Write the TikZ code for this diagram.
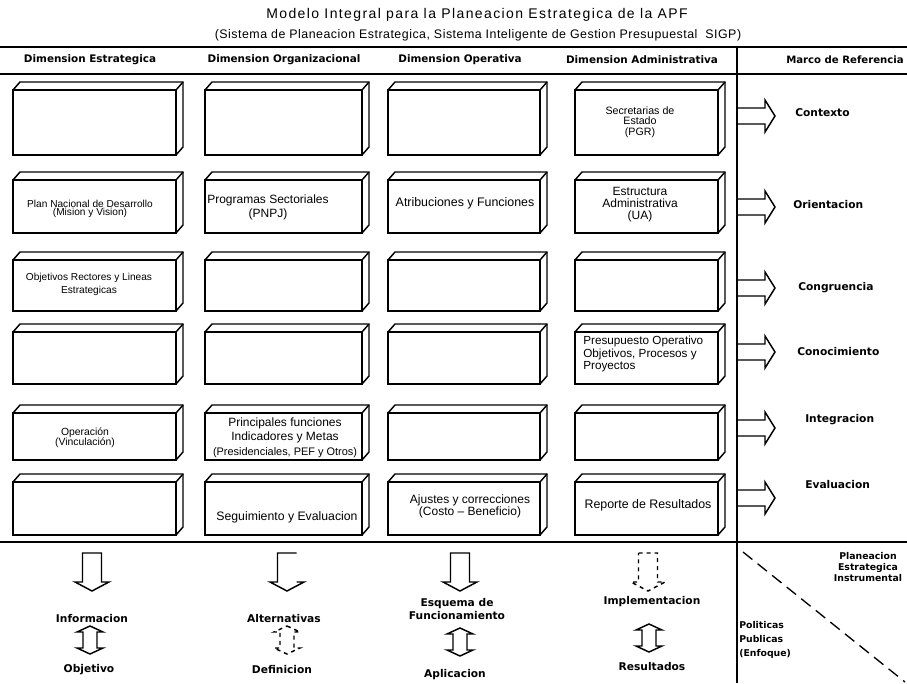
\documentclass[tikz,border=0pt]{standalone}
\usepackage{fontspec}
\setmainfont{Liberation Sans}
\newfontfamily\dv{DejaVu Sans}
\newfontfamily\ttl[LetterSpace=10]{Liberation Sans}
\newfontfamily\sttl[LetterSpace=4]{Liberation Sans}
\begin{document}
\begin{tikzpicture}[x=0.75pt,y=-0.75pt,
  frame/.style={line width=2pt},
  box/.style={draw,line width=1.1pt,inner sep=0pt,outer sep=0pt},
  face/.style={line width=1.1pt,line join=miter},
  bt/.style={font=\fontsize{9}{10.5}\selectfont,align=center,inner sep=0pt},
  hd/.style={font=\dv\bfseries\fontsize{7.8}{9}\selectfont,inner sep=0pt},
  lb/.style={font=\dv\bfseries\fontsize{8}{9.5}\selectfont,inner sep=0pt,align=center},
  sl/.style={font=\dv\bfseries\fontsize{7}{8.25}\selectfont,inner sep=0pt},
  blk/.style={draw,line width=1.1pt,line join=miter},
]
\clip (0,0) rectangle (907,683);
\fill[white] (0,0) rectangle (907,683);

% titles
\node[inner sep=0pt,font=\ttl\fontsize{10.5}{12}\selectfont] (title) at (477,15) {Modelo Integral para la Planeacion Estrategica de la APF};
\node[inner sep=0pt,font=\sttl\fontsize{9.3}{11}\selectfont] (subtitle) at (478,35) {(Sistema de Planeacion Estrategica, Sistema Inteligente de Gestion Presupuestal\ \ SIGP)};

% frame lines
\coordinate (lt) at (0,47);   \coordinate (rt) at (907,47);
\coordinate (lh) at (0,74);   \coordinate (rh) at (907,74);
\coordinate (lb) at (0,542);  \coordinate (rb) at (907,542);
\coordinate (vt) at (737,47); \coordinate (vb) at (737,683);
\draw[frame] (lt) -- (rt);
\draw[frame] (lh) -- (rh);
\draw[frame] (lb) -- (rb);
\draw[line width=2.2pt] (vt) -- (vb);

% headers
\node[hd] (h1) at (90,60) {Dimension Estrategica};
\node[hd] (h2) at (284,60) {Dimension Organizacional};
\node[hd] (h3) at (460,60) {Dimension Operativa};
\node[hd] (h4) at (642,60) {Dimension Administrativa};
\node[hd,anchor=west,font=\dv\bfseries\fontsize{7.6}{9}\selectfont] (h5) at (786,60) {Marco de Referencia};

% 3D boxes
\foreach \cx/\w [count=\i] in {94.5/163,283.5/157,464/152,646.5/143}{
  \foreach \cy/\h [count=\j] in {122.5/65,206.5/53,285.5/51,358/52,436.5/47,508.5/53}{
    \node[box,minimum width=\w*0.75pt,minimum height=\h*0.75pt] (b\j\i) at (\cx,\cy) {};
    \draw[face] (b\j\i.north west) -- ++(7,-8) -- ([shift={(7,-8)}]b\j\i.north east)
      -- ([shift={(7,-8)}]b\j\i.south east) -- (b\j\i.south east);
    \draw[face] (b\j\i.north east) -- ++(7,-8);
  }
}

% box texts
\node[bt,font=\fontsize{8}{7.8}\selectfont] (t14) at (640,122) {Secretarias de\\Estado\\(PGR)};
\node[bt,font=\fontsize{7.6}{6.4}\selectfont] (t21) at (90,209) {Plan Nacional de Desarrollo\\(Mision y Vision)};
\node[bt,font=\fontsize{9}{10.5}\selectfont] (t22) at (268,207) {Programas Sectoriales\\(PNPJ)};
\node[bt,font=\fontsize{9.3}{11}\selectfont] (t23) at (465,203) {Atribuciones y Funciones};
\node[bt,font=\fontsize{9}{9}\selectfont] (t24) at (640,205) {Estructura\\Administrativa\\(UA)};
\node[bt,font=\fontsize{7.6}{9.75}\selectfont] (t31) at (89,284.5) {Objetivos Rectores y Lineas\\Estrategicas};
\node[bt,align=left,anchor=west,font=\fontsize{8.8}{7.4}\selectfont] (t44) at (583,354) {Presupuesto Operativo\\Objetivos, Procesos y\\Proyectos};
\node[bt,font=\fontsize{7.8}{7.5}\selectfont] (t51) at (85,438) {Operación\\(Vinculación)};
\node[bt,font=\fontsize{9}{10.8}\selectfont] (t52) at (285,437.5) {Principales funciones\\Indicadores y Metas\\{\fontsize{8.2}{9}\selectfont(Presidenciales, PEF y Otros)}};
\node[bt,font=\fontsize{9.2}{11}\selectfont] (t62) at (287,517) {Seguimiento y Evaluacion};
\node[bt,font=\fontsize{9}{9}\selectfont] (t63) at (470,506) {Ajustes y correcciones\\(Costo – Beneficio)};
\node[bt,font=\fontsize{9.3}{11}\selectfont] (t64) at (648,505) {Reporte de Resultados};

% right block arrows
\foreach \y in {116,207,288,352,428,498}{
  \draw[blk] (737,\y-8) -- ++(28,0) -- ++(0,-8) -- ++(10,16) -- ++(-10,16) -- ++(0,-8) -- ++(-28,0);
}
\node[lb,anchor=west] (m1) at (795,113) {Contexto};
\node[lb,anchor=west] (m2) at (793,205) {Orientacion};
\node[lb,anchor=west] (m3) at (798,288) {Congruencia};
\node[lb,anchor=west] (m4) at (797,352) {Conocimiento};
\node[lb,anchor=west] (m5) at (805,420) {Integracion};
\node[lb,anchor=west] (m6) at (805,485) {Evaluacion};

% bottom down arrows
\foreach \x/\s in {92/solid,460/solid,648/dashed}{
  \draw[blk,\s] (\x-9.5,553) -- (\x+9.5,553) -- (\x+9.5,582) -- (\x+17,582) -- (\x,591) -- (\x-17,582) -- (\x-9.5,582) -- cycle;
}
\draw[blk] (287+9.5,553) -- (287-9.5,553) -- (287-9.5,582) -- (287-17,582) -- (287,591) -- (287+17,582) -- (287+9.5,582);

% bottom double arrows
\foreach \x/\y/\s in {90/626/solid,287/626/dashed,460/628/solid,649/624/solid}{
  \draw[blk,\s] (\x,\y) -- (\x+13,\y+6) -- (\x+7,\y+6) -- (\x+7,\y+22) -- (\x+13,\y+22) -- (\x,\y+28)
    -- (\x-13,\y+22) -- (\x-7,\y+22) -- (\x-7,\y+6) -- (\x-13,\y+6) -- cycle;
}

% bottom labels
\node[lb] (l1) at (92,619) {Informacion};
\node[lb] (l2) at (89,670) {Objetivo};
\node[lb] (l3) at (284,619) {Alternativas};
\node[lb] (l4) at (282,670) {Definicion};
\node[lb] (l5) at (457,609) {Esquema de\\Funcionamiento};
\node[lb] (l6) at (455,675) {Aplicacion};
\node[lb] (l7) at (652,602) {Implementacion};
\node[lb] (l8) at (652,667) {Resultados};

% bottom right corner
\coordinate (d1) at (743,552);
\coordinate (d2) at (905,682);
\draw[line width=1pt,dash pattern=on 9pt off 5pt] (d1) -- (d2);
\node[sl,align=center] (pe) at (868,567) {Planeacion\\Estrategica\\Instrumental};
\node[sl,align=left,anchor=west,font=\dv\bfseries\fontsize{7}{10.5}\selectfont] (pp) at (739,640) {Politicas\\Publicas\\(Enfoque)};
\end{tikzpicture}
\end{document}
